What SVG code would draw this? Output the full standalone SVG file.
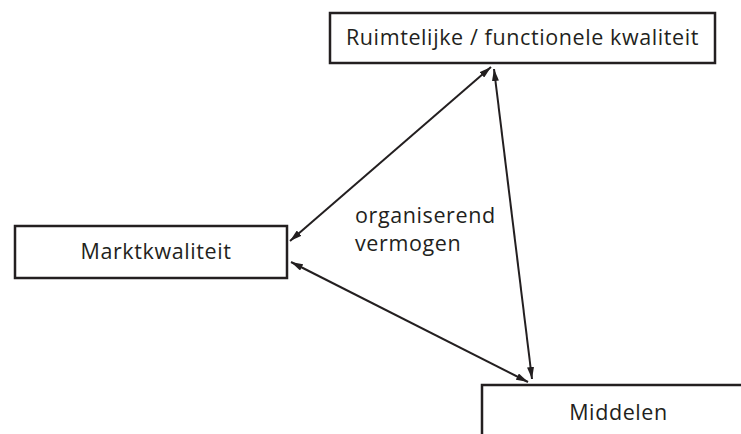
<svg xmlns="http://www.w3.org/2000/svg" width="741" height="434" viewBox="0 0 741 434">
<style>
.box{fill:#fff;stroke:#231f20;stroke-width:2.5}
.t{font-family:"Open Sans","Noto Sans","DejaVu Sans",sans-serif;font-size:21.5px;letter-spacing:0.6px;fill:#231f20}
.c{stroke:#231f20;stroke-width:2;fill:none;marker-start:url(#ah);marker-end:url(#ah)}
</style>
<defs>
<marker id="ah" viewBox="0 0 12 7" refX="12" refY="3.5" markerWidth="12" markerHeight="7" markerUnits="userSpaceOnUse" orient="auto-start-reverse">
<path d="M0,0 L12,3.5 L0,7 Z" fill="#231f20"/>
</marker>
</defs>
<rect width="741" height="434" fill="#fff"/>
<g id="connectors">
<line class="c" x1="491" y1="67" x2="290" y2="241"/>
<line class="c" x1="494" y1="69" x2="532" y2="379"/>
<line class="c" x1="291" y1="262" x2="528" y2="382"/>
</g>
<g id="n-ruimtelijk">
<rect class="box" x="330" y="13" width="385" height="50"/>
<text class="t" x="522.5" y="45" text-anchor="middle">Ruimtelijke / functionele kwaliteit</text>
</g>
<g id="n-markt">
<rect class="box" x="15" y="226" width="272" height="52"/>
<text class="t" x="156" y="259" text-anchor="middle">Marktkwaliteit</text>
</g>
<g id="n-middelen">
<rect class="box" x="482" y="385" width="270" height="60"/>
<text class="t" x="618.5" y="420" text-anchor="middle">Middelen</text>
</g>
<g id="label">
<text class="t" x="355" y="223">organiserend</text>
<text class="t" x="355" y="251">vermogen</text>
</g>
</svg>
